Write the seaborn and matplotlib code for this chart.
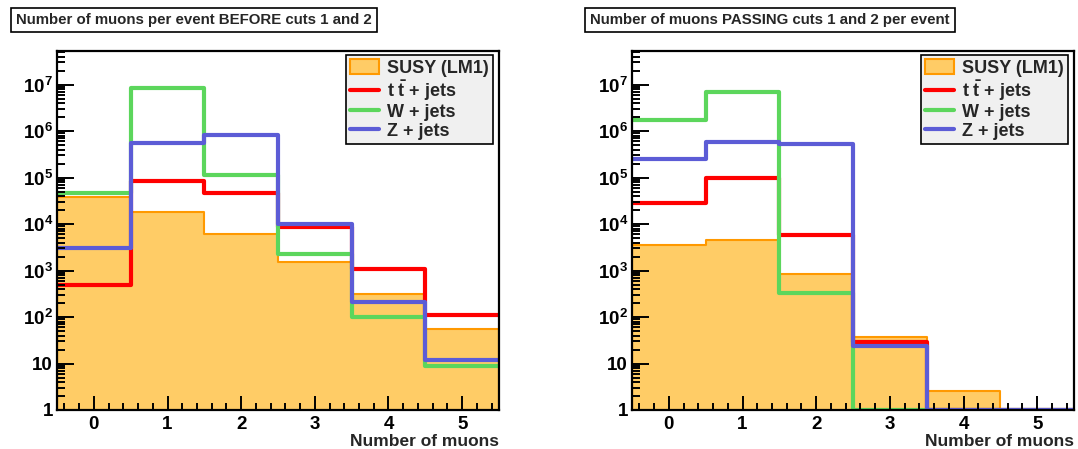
import numpy as np
import matplotlib
matplotlib.use("Agg")
import matplotlib.pyplot as plt
import seaborn as sns
from matplotlib.patches import Patch
from matplotlib.lines import Line2D
from matplotlib.ticker import FixedLocator, LogLocator, MultipleLocator, NullFormatter

n_muons = [0, 1, 2, 3, 4, 5]
bin_edges = [-0.5, 0.5, 1.5, 2.5, 3.5, 4.5, 5.5]

# number of muons per event, before cuts 1 and 2
susy_before = [3.9e4, 1.8e4, 6.2e3, 1.55e3, 3.2e2, 56]
ttbar_before = [490, 8.6e4, 4.7e4, 8.7e3, 1.1e3, 112]
wjets_before = [4.6e4, 8.6e6, 1.15e5, 2.3e3, 100, 8.9]
zjets_before = [3.1e3, 5.6e5, 8.3e5, 1.0e4, 210, 12]

# number of muons passing cuts 1 and 2
susy_pass = [3.6e3, 4.6e3, 850, 37, 2.6, 0]
ttbar_pass = [2.9e4, 1.0e5, 5.9e3, 29, 0, 0]
wjets_pass = [1.78e6, 6.8e6, 330, 0, 0, 0]
zjets_pass = [2.5e5, 5.9e5, 5.4e5, 24, 0, 0]

titles = ["Number of muons per event BEFORE cuts 1 and 2",
          "Number of muons PASSING cuts 1 and 2 per event"]
labels = ["SUSY (LM1)", r"t $\mathrm{\bar{t}}$ + jets", "W + jets", "Z + jets"]
colors = ["#ffcc66", "#ff0000", "#5cd65c", "#5c5cd6"]
susy_edge = "#ff9900"

y_ticks = [1, 10, 1e2, 1e3, 1e4, 1e5, 1e6, 1e7]
y_ticklabels = ["1", "10"] + [r"$10^{%d}$" % k for k in range(2, 8)]

sns.set_style("ticks")
plt.rcParams["font.family"] = ["Liberation Sans", "DejaVu Sans"]
plt.rcParams["font.weight"] = "bold"
plt.rcParams["mathtext.fontset"] = "custom"
plt.rcParams["mathtext.rm"] = "Liberation Sans:bold"
plt.rcParams["mathtext.bf"] = "Liberation Sans:bold"
plt.rcParams["mathtext.it"] = "Liberation Sans:bold:italic"
plt.rcParams["axes.linewidth"] = 1.6

fig = plt.figure(figsize=(10.78, 4.49), dpi=100)
W, H = 1078, 449
axes = [fig.add_axes([57 / W, 39 / H, 442 / W, 359 / H]),
        fig.add_axes([632 / W, 39 / H, 442 / W, 359 / H])]

panels = [(susy_before, ttbar_before, wjets_before, zjets_before),
          (susy_pass, ttbar_pass, wjets_pass, zjets_pass)]

for ax, series in zip(axes, panels):
    ymin = 1
    sns.histplot(x=n_muons, weights=np.clip(series[0], ymin, None), bins=bin_edges,
                 element="step", fill=True, color=colors[0], alpha=1,
                 edgecolor=susy_edge, linewidth=1.5, ax=ax)
    for vals, c in zip(series[1:], colors[1:]):
        sns.histplot(x=n_muons, weights=np.clip(vals, ymin, None), bins=bin_edges,
                     element="step", fill=False, color=c, linewidth=3, ax=ax)

    ax.set_axisbelow(False)
    ax.set_yscale("log")
    ax.set_xlim(-0.5, 5.5)
    ax.set_ylim(1, 5.3e7)
    ax.yaxis.set_major_locator(FixedLocator(y_ticks))
    ax.set_yticklabels(y_ticklabels)
    ax.yaxis.set_minor_locator(LogLocator(base=10, subs=np.arange(2, 10)))
    ax.yaxis.set_minor_formatter(NullFormatter())
    ax.xaxis.set_major_locator(FixedLocator(n_muons))
    ax.xaxis.set_minor_locator(MultipleLocator(0.2))
    ax.tick_params(which="both", direction="in", top=False, right=False,
                   labelsize=13.5, width=1.4, colors="black")
    ax.tick_params(axis="y", which="major", length=12, pad=3)
    ax.tick_params(axis="y", which="minor", length=6)
    ax.tick_params(axis="x", which="major", length=10, pad=4)
    ax.tick_params(axis="x", which="minor", length=5)
    for s in ax.spines.values():
        s.set_visible(True)
        s.set_color("black")
        s.set_zorder(5)
    ax.set_ylabel("")
    ax.set_xlabel("Number of muons", loc="right", fontsize=12.5, fontweight="bold",
                  labelpad=1)

    handles = [Patch(facecolor=colors[0], edgecolor=susy_edge, linewidth=1.5)]
    handles += [Line2D([], [], color=c, linewidth=3) for c in colors[1:]]
    leg = ax.legend(handles, labels, loc="upper right", bbox_to_anchor=(0.986, 0.989),
                    borderaxespad=0, fancybox=False, framealpha=1,
                    facecolor="#f0f0f0", edgecolor="black", fontsize=13,
                    handlelength=1.6, handleheight=0.85, handletextpad=0.4,
                    labelspacing=0.05, borderpad=0.25)
    leg.get_frame().set_linewidth(1.2)
    leg.set_zorder(10)

title_x = [194 / W, 770 / W]
for tx, t in zip(title_x, titles):
    fig.text(tx, 1 - 20 / H, t, ha="center", va="center", fontsize=10.8,
             fontweight="bold",
             bbox=dict(boxstyle="square,pad=0.35", facecolor="white",
                       edgecolor="black", linewidth=1.2))

fig.savefig("out.png", dpi=100)
